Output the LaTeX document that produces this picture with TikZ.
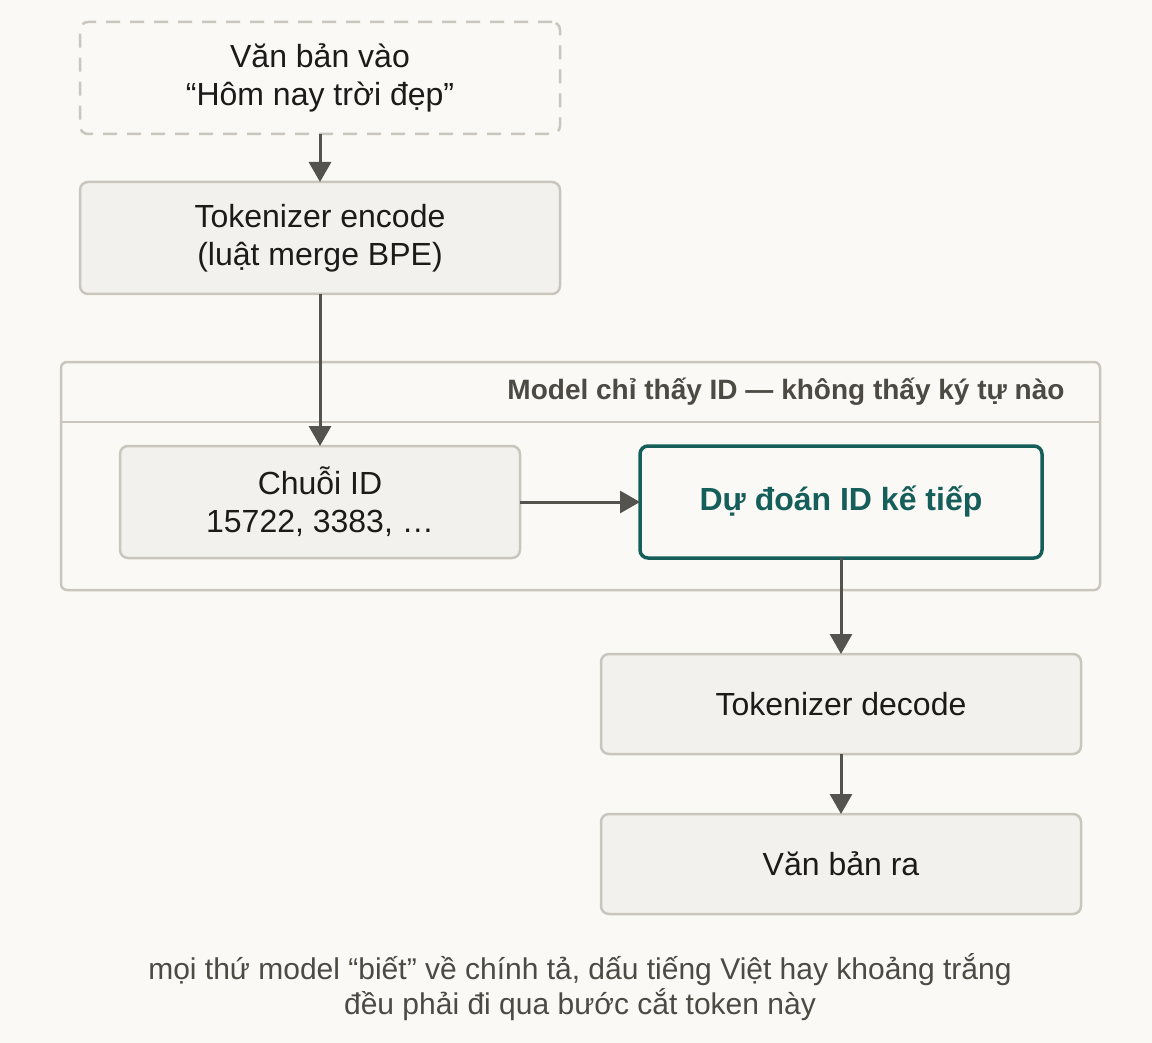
\documentclass[tikz,border=0pt]{standalone}
\usepackage{fontspec}
\setmainfont{Liberation Sans}
\usetikzlibrary{arrows.meta,positioning}
\definecolor{PageBg}{HTML}{FAF9F6}
\definecolor{BoxFill}{HTML}{F2F1ED}
\definecolor{BoxBorder}{HTML}{CAC6BE}
\definecolor{ArrowGray}{HTML}{55534E}
\definecolor{TextDark}{HTML}{1C1B19}
\definecolor{TextMuted}{HTML}{4D4A44}
\definecolor{TealDark}{HTML}{155E59}

\begin{document}
\begin{tikzpicture}[
  x=1pt, y=1pt,
  node distance=48pt and 120pt,
  box/.style={draw=BoxBorder, line width=2.5pt, rounded corners=8pt, fill=BoxFill,
    minimum width=480pt, minimum height=112pt, align=center, text=TextDark, outer sep=0pt,
    font=\fontsize{32}{38}\selectfont},
  inbox/.style={box, fill=PageBg, dashed, dash pattern=on 14pt off 10pt},
  keybox/.style={box, draw=TealDark, line width=3.5pt, fill=PageBg, text=TealDark,
    font=\fontsize{32}{38}\selectfont\bfseries},
  group/.style={draw=BoxBorder, line width=2.5pt, rounded corners=6pt, fill=PageBg},
  arrow/.style={-{Triangle[length=20pt, width=22pt]}, line width=3pt, draw=ArrowGray}
]
  \fill[PageBg] (0,0) rectangle (1152,-1043);
  \useasboundingbox (0,0) rectangle (1152,-1043);

  % model group
  \draw[group] (61,-362) rectangle (1100,-590);
  \draw[BoxBorder, line width=2.5pt] (62,-422) -- (1099,-422);
  \node[anchor=east, text=TextMuted, font=\fontsize{28}{32}\selectfont\bfseries] (grouptitle) at (1068,-392) {Model chỉ thấy ID — không thấy ký tự nào};

  \node[inbox] (input) at (320,-78) {Văn bản vào\\“Hôm nay trời đẹp”};
  \node[box, below=of input] (encode) {Tokenizer encode\\(luật merge BPE)};
  \node[box, minimum width=400pt, below=152pt of encode] (ids) {Chuỗi ID\\15722, 3383, …};
  \node[keybox, minimum width=402pt, right=of ids] (predict) {Dự đoán ID kế tiếp};
  \node[box, minimum height=100pt, below=96pt of predict] (decode) {Tokenizer decode};
  \node[box, minimum height=100pt, below=60pt of decode] (output) {Văn bản ra};

  \node[align=center, text=TextMuted, font=\fontsize{30}{35}\selectfont] (note) at (580,-987) {mọi thứ model “biết” về chính tả, dấu tiếng Việt hay khoảng trắng\\đều phải đi qua bước cắt token này};

  \draw[arrow] (input) -- (encode);
  \draw[arrow] (encode) -- (ids);
  \draw[arrow] (ids) -- (predict);
  \draw[arrow] (predict) -- (decode);
  \draw[arrow] (decode) -- (output);
\end{tikzpicture}
\end{document}
